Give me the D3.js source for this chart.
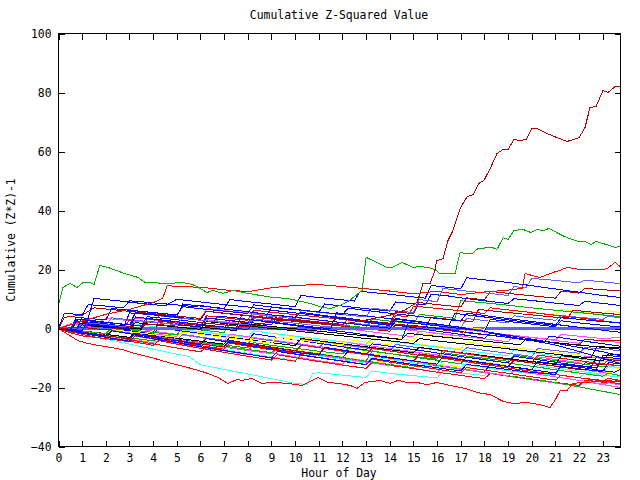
<!DOCTYPE html>
<html><head><meta charset="utf-8">
<script src="https://cdn.jsdelivr.net/npm/d3@7"></script>
<style>
html,body{margin:0;padding:0;background:#fff;}
text{font-family:"DejaVu Sans Mono",monospace;font-size:11.4px;fill:#000;}
</style></head>
<body><svg id="c" width="640" height="480"></svg>
<script>
// ---------- DATA ----------
const hourTicks = [0,1,2,3,4,5,6,7,8,9,10,11,12,13,14,15,16,17,18,19,20,21,22,23];
const valueTicks = [-40,-20,0,20,40,60,80,100];

// standout series: sample hours and values
const bigRedHours = [0,1,2,3,4,5,6,7,8,9,10,11,12,13,14,14.6,15.15,15.28,15.4,15.7,15.91,15.98,16.25,16.46,16.67,16.97,17.27,17.52,17.77,17.98,18.24,18.53,18.79,19.0,19.25,19.5,19.76,20.01,20.22,20.65,21.07,21.49,22.0,22.25,22.46,22.72,23.01,23.22,23.52,23.73];
const bigRedValues = [0,0.4,-0.5,0.7,1.5,0.8,2.0,1.2,0.5,2.4,3.1,2.2,1.4,2.9,4.5,6.1,8.8,11.9,15.2,15.2,19.7,23.0,23.7,29.8,33.2,40.7,44.7,45.4,49.2,50.2,54.2,59.3,60.7,60.7,64.1,63.7,64.1,67.8,67.8,66.1,64.7,63.4,64.7,68.1,74.9,75.3,80.7,80.0,82.0,82.0];

const topGreenHours = [0,0.19,0.4,0.49,0.78,1.04,1.33,1.5,1.75,2.09,2.81,3.36,3.66,3.95,4.37,4.8,5.14,5.47,5.77,6.28,6.53,6.95,7.38,8.01,8.52,9.07,9.66,10.08,10.63,11.18,11.48,11.9,12.3,12.83,13.0,13.46,13.88,14.1,14.52,14.98,15.28,15.62,15.91,16.12,16.76,16.97,17.18,17.48,17.73,18.32,18.53,18.79,19.0,19.25,19.63,19.97,20.22,20.48,20.73,21.2,21.49,21.96,22.25,22.5,22.72,23.01,23.52,23.73];
const topGreenValues = [7.8,13.9,14.9,15.3,13.9,15.6,15.6,14.9,21.4,20.7,18.6,17.3,15.6,15.6,15.3,15.3,15.6,15.3,14.6,12.2,12.9,11.9,12.9,11.9,11.2,10.5,10.2,9.5,8.5,7.1,6.8,7.8,9.5,12.9,24.1,22.4,20.7,20.7,22.4,20.7,21.0,20.7,20.0,18.6,18.6,25.8,25.4,25.4,27.1,27.5,26.8,30.8,30.2,33.2,33.6,32.5,33.6,33.2,33.9,31.9,30.8,29.5,29.5,28.5,29.5,28.8,27.5,27.8];

const lowRedHours = [0,0.82,1.25,2.68,3.23,4.08,4.8,5.64,6.19,6.74,7.16,7.54,7.76,8.18,8.6,9.02,9.7,10.29,10.55,10.97,11.39,11.81,12.32,12.62,12.95,13.59,14.01,14.35,14.73,15.15,15.57,16.0,16.55,17.18,17.69,18.24,18.79,19.21,19.8,20.35,20.77,20.98,21.2,21.49,21.75,22.17,22.76,23.31,23.73];
const lowRedValues = [0,-4.1,-5.1,-7.1,-8.5,-10.2,-11.9,-13.6,-14.9,-16.6,-18.6,-17.3,-17.6,-16.9,-18.6,-18.3,-18.6,-19.3,-18.3,-16.6,-18.3,-18.6,-19.3,-20.3,-18.3,-17.6,-18.6,-17.6,-18.3,-18.3,-19.0,-18.3,-19.3,-20.3,-21.7,-22.4,-24.7,-25.4,-25.1,-25.8,-26.8,-24.4,-21.0,-21.0,-18.6,-18.3,-18.0,-18.0,-17.6];

const upRedHours = [0,1,2,3,4,4.4,4.6,5,6,7,8,9,10,11,12,13,14,15,16,17,18,19,19.59,19.72,20.35,20.9,21.2,21.49,22.04,22.97,23.18,23.52,23.73];
const upRedValues = [0,2.5,4.8,6.5,8.8,10.2,14.6,14.2,14.0,13.1,12.5,13.8,14.6,14.9,14.2,13.5,12.7,11.8,12.6,11.5,12.4,13.0,13.6,18.6,17.3,19.0,19.7,20.7,20.0,20.0,20.3,22.4,21.0];

const zeroHours = [0,23.75];
const zeroValues = [0,0];

// bundle series as [hour, value] pairs
const blue1 = [[0,0],[0.25,5.2],[1,4.6],[1.25,8.1],[2,7.6],[2.75,7.0],[3,9.4],[4,8.7],[5,8.0],[5.75,7.4],[6,7.8],[7,6.6],[8,5.7],[9,4.6],[10,3.8],[10.25,5.5],[11,4.6],[12,3.7],[13,2.6],[14,1.4],[15,0.3],[16,-0.9],[17,-2.0],[18,-3.3],[18.25,-1.6],[19,-2.7],[20,-4.1],[21,-5.6],[22,-7.8],[23,-10.1],[23.75,-11.9]];
const blue2 = [[0,0],[0.5,-0.6],[0.75,3.9],[1.25,3.4],[1.5,10.2],[2.5,9.4],[3.5,8.5],[4.5,7.7],[5,9.9],[6,9.0],[7,8.1],[8,7.3],[9,6.2],[10,5.3],[11,4.4],[12,3.3],[13,2.1],[14,1.0],[14.25,3.4],[15,2.6],[16,1.5],[17,0.4],[18,-1.0],[19,-2.3],[20,-3.6],[21,-5.0],[22,-6.4],[23,-7.9],[23.75,-9.2]];
const blue3 = [[0,0],[1,-0.7],[1.25,2.6],[2,2.0],[3,1.2],[3.25,5.4],[4,4.7],[5,3.9],[5.25,8.3],[6,7.6],[7,6.8],[7.25,9.8],[8,9.1],[9,8.3],[10,7.4],[10.25,11.2],[11,10.5],[12,9.7],[12.5,9.3],[12.75,12.6],[14,11.6],[15,10.7],[15.5,10.3],[15.75,14.6],[16.5,13.9],[17,13.5],[17.25,17.2],[18,16.5],[19,15.6],[20,14.5],[21,13.4],[22,12.3],[23,11.2],[23.75,10.5]];
const blue4 = [[0,0],[1,-1.3],[2,-2.6],[2.25,-0.8],[3,-1.8],[4,-3.0],[5,-4.2],[6,-5.5],[6.25,-3.4],[7,-4.4],[8,-5.7],[9,-6.9],[10,-8.1],[11,-9.0],[11.25,-6.4],[12,-7.3],[13,-8.6],[14,-9.8],[15,-11.0],[16,-12.1],[16.25,-9.4],[17,-10.5],[18,-11.6],[19,-12.8],[20,-13.9],[20.25,-11.2],[21,-12.0],[22,-13.1],[23,-14.3],[23.5,-14.8],[23.75,-13.8]];
const blue5 = [[0,0],[1,-0.8],[1.25,1.6],[2,1.0],[2.75,0.4],[3,5.3],[4,4.6],[5,3.8],[6,3.0],[6.25,5.9],[7,5.1],[8,4.3],[8.75,3.7],[9,7.2],[10,6.4],[11,5.5],[11.25,8.3],[12,7.6],[13,6.7],[14,5.9],[14.25,9.0],[15,8.4],[15.5,8.0],[15.75,11.6],[16.5,11.0],[17,10.4],[18,9.4],[19,8.5],[19.25,10.1],[20,9.5],[21,8.6],[22,7.8],[22.25,9.2],[23,8.5],[23.75,7.8]];
const blue6 = [[0,0],[1,-1.2],[2,-2.4],[3,-3.5],[3.25,-1.5],[4,-2.5],[5,-3.7],[6,-4.9],[7,-6.1],[7.25,-4.0],[8,-5.0],[9,-6.3],[10,-7.5],[11,-8.7],[12,-9.9],[12.25,-7.6],[13,-8.6],[14,-9.9],[15,-11.1],[16,-12.4],[17,-13.6],[18,-14.8],[18.25,-12.0],[19,-12.9],[20,-14.0],[21,-15.1],[21.25,-12.8],[22,-13.7],[23,-14.6],[23.25,-11.5],[23.75,-12.0]];
const blue7 = [[0,0],[0.5,-0.5],[0.75,2.6],[1.5,2.0],[2.5,1.1],[3,0.6],[3.25,3.9],[4,3.2],[5,2.3],[6,1.4],[7,0.5],[8,-0.4],[8.25,2.9],[9,2.2],[10,1.2],[11,0.3],[11.5,-0.1],[11.75,5.3],[12.5,4.7],[13.5,3.8],[14.5,2.9],[15.5,1.9],[16.5,1.0],[16.75,5.1],[17.5,4.4],[18.5,3.4],[19.5,2.4],[20.5,1.5],[21,1.0],[21.25,3.8],[22,3.1],[23,2.3],[23.75,2.0]];
const blue8 = [[0,0],[0.75,-0.8],[1,1.2],[2,0.3],[3,-0.8],[4,-1.9],[4.25,0.3],[5,-0.6],[6,-1.7],[7,-2.8],[8,-4.0],[8.25,-1.8],[9,-2.7],[10,-3.8],[11,-5.0],[12,-6.2],[13,-7.3],[13.25,-5.2],[14,-6.0],[15,-7.1],[16,-8.3],[17,-9.5],[18,-10.6],[19,-11.7],[19.25,-9.4],[20,-10.3],[21,-11.4],[22,-12.6],[22.5,-13.0],[22.75,-9.6],[23.75,-10.2]];
const blue9 = [[0,0],[0.5,-0.4],[0.75,3.2],[1.5,2.6],[2.5,1.7],[3.5,0.8],[3.75,4.0],[4.5,3.4],[5.5,2.5],[6.5,1.6],[6.75,4.2],[7.5,3.6],[8.5,2.6],[9.5,1.5],[10.5,0.4],[11.5,-0.6],[12.5,-1.6],[13.5,-2.7],[14.5,-3.8],[14.75,1.2],[15.5,0.6],[16.5,-0.4],[17.5,-1.5],[18.5,-2.5],[19.5,-3.6],[20.5,-4.7],[20.75,-2.6],[21.5,-3.4],[22.5,-4.6],[23.75,-6.0]];
const blue10 = [[0,0],[1,-1.6],[2,-3.0],[3,-4.3],[3.25,-2.4],[4,-3.5],[5,-4.8],[6,-6.2],[7,-7.5],[8,-8.7],[9,-10.0],[9.25,-7.8],[10,-8.7],[11,-9.9],[12,-11.1],[13,-12.3],[13.25,-10.1],[14,-11.0],[15,-12.2],[16,-13.3],[17,-14.4],[17.25,-12.2],[18,-12.9],[19,-13.9],[20,-14.9],[21,-15.6],[21.25,-12.0],[22,-12.8],[22.75,-13.4],[23,-9.1],[23.75,-9.5]];
const blue11 = [[0,0],[0.75,-0.6],[1,3.6],[2,2.9],[2.25,6.8],[3,6.2],[4,5.4],[5,4.6],[5.25,7.4],[6,6.7],[7,5.9],[8,5.1],[8.25,8.0],[9,7.3],[10,6.5],[11,5.6],[12,4.8],[12.25,6.9],[13,6.1],[14,5.2],[15,4.3],[16,3.4],[17,2.5],[17.25,5.2],[18,4.4],[19,3.4],[20,2.4],[21,1.4],[22,0.4],[23,-0.6],[23.75,-1.3]];
const blue12 = [[0,0],[1,-0.9],[1.25,1.4],[2,0.7],[3,-0.1],[3.25,2.8],[4,2.1],[5,1.3],[6,0.5],[6.25,3.6],[7,2.9],[8,2.1],[9,1.2],[9.25,4.5],[10,3.8],[11,2.9],[12,2.0],[13,1.0],[14,0.1],[14.25,2.5],[15,1.8],[16,0.9],[17,0.0],[18,-0.9],[18.25,3.1],[19,2.4],[20,1.5],[21,0.6],[21.25,2.6],[22,1.9],[23,1.1],[23.75,0.5]];
const lightBlue2 = [[0,0],[1,-0.8],[1.25,1.9],[2,1.3],[3,0.5],[3.25,2.8],[4,2.1],[5,1.3],[5.25,3.5],[6,2.8],[7,2.0],[8,1.2],[8.25,4.8],[9,4.1],[10,3.3],[10.25,6.2],[11,5.5],[12,4.7],[13,3.9],[13.25,6.9],[14,6.2],[15,5.4],[15.25,9.8],[16,9.1],[16.25,13.6],[17,12.9],[18,12.1],[19,11.2],[19.25,14.2],[19.75,13.8],[20,17.0],[21,16.3],[22,15.5],[22.25,16.4],[23,15.8],[23.75,15.2]];
const lightBlue3 = [[0,0],[1,-1.1],[2,-2.2],[2.25,-0.6],[3,-1.5],[4,-2.7],[5,-3.8],[5.25,-2.0],[6,-2.9],[7,-4.0],[8,-5.1],[8.25,-3.3],[9,-4.2],[10,-5.3],[11,-6.4],[11.25,-4.6],[12,-5.4],[13,-6.5],[14,-7.6],[14.25,-5.4],[15,-6.3],[16,-7.3],[17,-8.4],[17.25,-6.5],[18,-7.4],[19,-8.4],[20,-9.5],[20.25,-6.8],[21,-7.5],[22,-8.4],[22.25,-6.4],[23,-7.0],[23.75,-7.5]];
const lightBlue4 = [[0,0],[0.75,-0.5],[1,1.8],[2,1.1],[2.25,3.6],[3,3.0],[4,2.2],[4.25,4.3],[5,3.6],[6,2.8],[7,2.0],[8,1.2],[8.25,3.3],[9,2.6],[10,1.8],[11,0.9],[12,0.1],[12.25,2.0],[13,1.3],[14,0.5],[14.25,2.6],[15,1.9],[16,1.1],[17,0.3],[17.25,3.4],[18,2.7],[19,1.9],[19.25,4.3],[20,3.6],[21,2.8],[21.25,4.4],[22,3.8],[23,3.1],[23.25,4.2],[23.75,3.5]];
const red3 = [[0,0],[1,-1.4],[2,-2.9],[3,-4.3],[4,-5.7],[4.25,-4.1],[5,-5.3],[6,-6.7],[7,-8.1],[8,-9.4],[9,-10.7],[9.25,-8.9],[10,-9.9],[11,-11.2],[12,-12.4],[13,-13.5],[13.25,-11.6],[14,-12.5],[15,-13.6],[16,-14.8],[17,-15.9],[18,-17.0],[18.25,-15.2],[19,-16.1],[20,-17.2],[21,-18.3],[22,-19.3],[22.25,-17.5],[23,-18.2],[23.75,-18.6]];
const red4 = [[0,0],[1,-1.2],[2,-2.4],[2.25,-0.8],[3,-1.7],[4,-2.9],[5,-4.1],[6,-5.3],[6.25,-3.2],[7,-4.2],[8,-5.4],[9,-6.6],[10,-7.8],[10.25,-5.5],[11,-6.5],[12,-7.7],[13,-8.9],[14,-10.1],[15,-11.2],[15.25,-8.8],[16,-9.8],[17,-11.0],[18,-12.2],[19,-13.4],[20,-14.5],[21,-15.6],[22,-16.7],[23,-17.8],[23.25,-16.9],[23.75,-17.6]];
const red5 = [[0,0],[1,-0.9],[1.25,1.2],[2,0.5],[2.75,0.0],[3,2.9],[4,2.2],[5,1.4],[6,0.6],[6.25,4.3],[7,3.6],[8,2.8],[8.25,6.2],[9,5.5],[10,4.7],[11,3.9],[12,3.1],[13,2.2],[14,1.4],[14.25,4.4],[14.75,4.0],[15,7.6],[16,6.8],[17,6.0],[18,5.1],[18.25,7.0],[19,6.3],[20,5.4],[21,4.5],[22,3.6],[23,2.6],[23.75,1.8]];
const red6 = [[0,0],[1,-2.0],[2,-3.6],[2.25,-2.6],[3,-3.8],[4,-5.2],[5,-6.6],[6,-7.9],[6.25,-6.4],[7,-7.4],[8,-8.7],[9,-9.9],[10,-11.1],[10.25,-8.8],[11,-9.8],[12,-11.0],[13,-12.2],[13.25,-10.4],[14,-11.4],[15,-12.6],[16,-13.8],[17,-15.0],[17.25,-13.2],[18,-14.1],[19,-15.2],[20,-16.4],[21,-17.5],[21.25,-15.8],[22,-16.7],[23,-17.6],[23.75,-18.0]];
const red7 = [[0,0],[0.5,-1.5],[1,-2.5],[2,-3.4],[3,-4.5],[3.25,-2.5],[4,-3.4],[5,-4.6],[6,-5.8],[7,-7.0],[7.25,-5.0],[8,-6.0],[9,-7.2],[10,-8.4],[10.25,-5.6],[11,-6.5],[12,-7.7],[13,-8.9],[13.25,-6.7],[14,-7.6],[15,-8.8],[16,-10.0],[16.25,-7.4],[17,-8.3],[18,-9.5],[19,-10.6],[20,-11.7],[20.25,-9.0],[21,-9.8],[22,-10.9],[23,-12.0],[23.75,-12.6]];
const darkRed2 = [[0,0],[0.25,3.8],[1,4.5],[1.5,7.0],[2,6.6],[3,5.8],[4,5.0],[5,4.2],[6,3.4],[6.25,5.9],[7,5.2],[8,4.4],[9,3.6],[10,2.8],[11,2.0],[12,1.2],[12.25,3.3],[13,2.6],[14,1.8],[14.25,5.7],[15,5.0],[15.25,8.8],[16,8.1],[17,7.3],[17.25,10.4],[18,9.7],[18.25,12.6],[19,11.9],[20,11.1],[21,10.3],[21.25,12.7],[22,12.0],[22.25,13.6],[23,13.1],[23.75,12.9]];
const darkRed3 = [[0,0],[1,-0.8],[2,-1.7],[2.25,0.3],[3,-0.4],[4,-1.3],[4.25,2.5],[5,1.8],[6,1.0],[7,0.2],[7.25,2.6],[8,1.9],[8.25,3.9],[9,3.2],[10,2.4],[11,1.6],[12,0.8],[13,-0.1],[14,-0.9],[14.25,1.3],[15,0.6],[16,-0.3],[17,-1.2],[18,-2.1],[19,-3.0],[20,-3.9],[21,-4.8],[22,-5.7],[22.25,-3.6],[23,-4.2],[23.75,-4.2]];
const darkRed4 = [[0,0],[1,-1.2],[2,-2.4],[3,-3.5],[3.25,-1.9],[4,-2.8],[5,-4.0],[6,-5.2],[7,-6.3],[7.25,-4.3],[8,-5.2],[9,-6.4],[10,-7.6],[11,-8.7],[11.25,-6.5],[12,-7.4],[13,-8.6],[14,-9.8],[15,-11.0],[15.25,-8.6],[16,-9.5],[17,-10.6],[18,-11.8],[19,-12.9],[19.25,-10.8],[20,-11.7],[21,-12.8],[22,-13.9],[22.25,-11.6],[23,-12.3],[23.25,-10.5],[23.75,-11.0]];
const darkRed5 = [[0,0],[0.5,-0.7],[0.75,2.4],[1.5,1.8],[2.5,0.9],[3.5,0.0],[3.75,3.3],[4.5,2.6],[5.5,1.8],[6.5,0.9],[7.5,0.1],[7.75,4.6],[8.5,3.9],[9.5,3.1],[10.5,2.2],[11.5,1.3],[11.75,3.6],[12.5,2.9],[13.5,2.1],[14.5,1.3],[15.5,0.4],[15.75,3.8],[16.5,3.1],[17.5,2.3],[17.75,6.5],[18.5,5.8],[19.5,5.0],[20.5,4.2],[21.5,3.4],[21.75,6.2],[22.5,5.6],[23.75,4.7]];
const green2 = [[0,0],[1,-1.0],[2,-2.0],[3,-3.1],[4,-4.2],[4.25,-2.8],[5,-3.8],[6,-4.9],[7,-6.0],[8,-7.1],[9,-8.2],[9.25,-6.8],[10,-7.7],[11,-8.9],[12,-10.0],[13,-11.1],[14,-12.2],[15,-13.3],[15.25,-11.5],[16,-12.6],[17,-13.7],[18,-14.9],[19,-16.0],[20,-17.1],[21,-18.3],[22,-19.8],[23,-21.3],[23.75,-22.4]];
const green3 = [[0,0],[1,-0.9],[2,-1.8],[2.25,0.4],[3,-0.4],[4,-1.3],[5,-2.2],[5.25,0.3],[6,-0.5],[7,-1.4],[7.25,1.8],[8,1.0],[9,0.2],[10,-0.7],[10.25,2.6],[11,1.9],[12,1.1],[13,0.3],[13.25,3.2],[14,2.5],[15,1.6],[15.25,4.8],[16,4.1],[16.75,3.5],[17,9.4],[18,8.7],[19,7.9],[20,7.0],[21,6.2],[22,5.4],[23,4.6],[23.75,4.0]];
const green4 = [[0,0],[1,-1.2],[2,-2.4],[3,-3.6],[4,-4.8],[4.25,-3.0],[5,-3.9],[6,-5.1],[7,-6.3],[8,-7.5],[8.25,-5.4],[9,-6.3],[10,-7.5],[11,-8.6],[12,-9.8],[13,-11.0],[13.25,-7.6],[14,-8.5],[15,-9.7],[16,-10.8],[17,-12.0],[17.25,-9.6],[18,-10.5],[19,-11.7],[20,-12.8],[21,-14.0],[22,-15.1],[23,-16.2],[23.25,-15.2],[23.75,-16.0]];
const green5 = [[0,0],[0.5,-1.2],[1,-1.6],[2,-2.5],[3,-3.4],[3.25,-1.8],[4,-2.7],[5,-3.7],[6,-4.7],[7,-5.6],[8,-6.6],[8.25,-4.8],[9,-5.7],[10,-6.7],[11,-7.7],[12,-8.6],[12.25,-6.6],[13,-7.5],[14,-8.5],[15,-9.5],[16,-10.4],[16.25,-8.2],[17,-9.1],[18,-10.1],[19,-11.1],[19.25,-9.0],[20,-9.9],[21,-10.9],[22,-11.9],[23,-12.9],[23.75,-12.5]];
const magenta1 = [[0,0],[0.5,-0.4],[0.75,1.6],[1.5,1.1],[2,3.4],[3,2.7],[4,1.9],[4.25,4.4],[5,3.8],[6,3.0],[6.25,6.8],[7,6.1],[8,5.3],[9,4.5],[10,3.7],[11,2.8],[12,2.0],[13,1.1],[14,0.2],[15,-0.7],[16,-1.6],[17,-2.5],[17.25,-0.4],[18,-1.2],[19,-2.1],[20,-3.0],[21,-3.9],[21.25,-2.0],[22,-2.6],[23,-3.4],[23.75,-3.0]];
const magenta2 = [[0,0],[1,-1.4],[2,-2.8],[3,-4.1],[3.25,-2.6],[4,-3.6],[5,-5.0],[6,-6.3],[7,-7.6],[8,-8.9],[8.25,-7.3],[9,-8.3],[10,-9.6],[11,-10.9],[12,-12.1],[12.25,-10.1],[13,-11.0],[14,-12.3],[15,-13.5],[16,-14.8],[16.25,-12.9],[17,-13.8],[18,-15.0],[19,-16.2],[20,-17.4],[21,-18.5],[22,-19.6],[22.25,-18.0],[23,-19.0],[23.75,-20.0]];
const magenta3 = [[0,0],[0.5,1.6],[1,1.0],[2,0.1],[3,-0.8],[4,-1.8],[5,-2.8],[5.25,-0.9],[6,-1.8],[7,-2.8],[8,-3.8],[9,-4.8],[10,-5.8],[10.25,-3.7],[11,-4.6],[12,-5.6],[13,-6.6],[14,-7.6],[15,-8.6],[15.25,-6.4],[16,-7.3],[17,-8.4],[18,-9.4],[19,-10.5],[20,-11.6],[21,-12.7],[22,-13.8],[23,-14.9],[23.75,-15.9]];
const magenta4 = [[0,0],[1,-0.8],[2,-1.7],[2.25,0.4],[3,-0.3],[3.25,3.6],[4,2.9],[5,2.1],[6,1.2],[6.25,3.0],[7,2.3],[8,1.4],[9,0.5],[10,-0.4],[11,-1.3],[11.25,0.8],[12,0.0],[13,-0.9],[14,-1.9],[15,-2.8],[15.25,-0.9],[16,-1.7],[17,-2.6],[18,-3.5],[19,-4.5],[19.25,-2.3],[20,-3.1],[21,-4.1],[22,-5.0],[22.25,-3.6],[23,-4.3],[23.75,-4.7]];
const magenta5 = [[0,0],[1,-1.2],[2,-2.4],[3,-3.6],[4,-4.8],[4.25,-2.8],[5,-3.8],[6,-5.0],[7,-6.2],[8,-7.4],[9,-8.6],[9.25,-6.9],[10,-7.8],[11,-9.0],[12,-10.2],[13,-11.4],[14,-12.6],[14.25,-10.3],[15,-11.2],[16,-12.4],[17,-13.6],[18,-14.8],[19,-16.0],[19.25,-14.3],[20,-15.2],[21,-16.4],[22,-17.6],[23,-18.8],[23.25,-18.4],[23.75,-19.2]];
const magenta6 = [[0,0],[1,-1.0],[2,-2.1],[2.25,0.9],[3,0.2],[4,-0.9],[5,-2.0],[6,-3.1],[7,-4.2],[7.25,-1.9],[8,-2.8],[9,-3.9],[10,-5.0],[11,-6.1],[12,-7.2],[12.25,-4.8],[13,-5.7],[14,-6.8],[15,-7.9],[16,-9.0],[17,-10.1],[17.25,-8.3],[18,-9.2],[19,-10.3],[20,-11.4],[20.25,-9.6],[21,-10.5],[22,-11.6],[22.25,-9.4],[23,-10.2],[23.75,-10.6]];
const cyan1 = [[0,0],[1,-1.8],[2,-3.6],[3,-5.3],[4,-7.0],[5,-8.7],[5.5,-9.4],[6,-12.3],[7,-13.9],[8,-15.4],[9,-17.0],[10,-18.6],[10.5,-19.0],[10.75,-15.2],[11,-15.0],[12,-15.8],[13,-16.6],[13.25,-14.4],[14,-15.2],[15,-16.0],[16,-16.7],[16.25,-14.4],[17,-15.1],[18,-15.9],[18.25,-13.6],[19,-14.3],[20,-15.1],[21,-15.9],[21.25,-13.2],[22,-13.8],[23,-14.6],[23.25,-12.9],[23.75,-13.2]];
const cyan2 = [[0,0],[1,-1.1],[2,-2.3],[3,-3.5],[3.25,-2.0],[4,-2.9],[5,-4.1],[6,-5.3],[7,-6.5],[7.25,-4.8],[8,-5.7],[9,-6.9],[10,-8.1],[11,-9.3],[12,-10.5],[13,-11.7],[13.25,-9.6],[14,-10.5],[15,-11.6],[16,-12.8],[17,-14.0],[17.25,-11.4],[18,-12.2],[19,-13.4],[20,-14.5],[21,-15.6],[22,-16.7],[22.25,-15.2],[23,-15.9],[23.75,-16.4]];
const cyan3 = [[0,0],[0.5,1.2],[1,0.8],[2,0.0],[3,-0.9],[3.25,1.4],[4,0.7],[5,-0.2],[6,-1.1],[7,-2.0],[8,-2.9],[8.25,-0.8],[9,-1.6],[10,-2.6],[11,-3.5],[12,-4.5],[13,-5.4],[13.25,-3.5],[14,-4.3],[15,-5.3],[16,-6.3],[17,-7.3],[18,-8.3],[19,-9.3],[19.25,-7.3],[20,-8.2],[21,-9.2],[22,-10.2],[23,-11.2],[23.75,-11.4]];
const cyan4 = [[0,0],[1,-1.4],[2,-2.8],[3,-4.1],[4,-5.4],[4.25,-3.5],[5,-4.5],[6,-5.8],[7,-7.1],[8,-8.4],[9,-9.6],[10,-10.9],[10.25,-8.8],[11,-9.8],[12,-11.1],[13,-12.3],[13.25,-10.4],[14,-11.3],[15,-12.5],[16,-13.7],[16.25,-11.1],[17,-12.0],[18,-13.2],[19,-14.3],[20,-15.4],[20.25,-12.6],[21,-13.4],[22,-14.5],[23,-15.5],[23.25,-12.3],[23.75,-12.6]];
const yellow1 = [[0,0],[1,-1.0],[2,-2.1],[3,-3.2],[3.25,-1.8],[4,-2.7],[5,-3.8],[6,-4.9],[7,-6.0],[7.25,-4.1],[8,-5.0],[9,-6.1],[10,-7.2],[11,-8.3],[11.25,-6.4],[12,-7.2],[13,-8.3],[14,-9.4],[14.25,-7.3],[15,-8.1],[16,-9.2],[17,-10.3],[18,-11.4],[19,-12.5],[19.25,-10.6],[20,-11.4],[21,-12.5],[22,-13.6],[23,-14.7],[23.25,-13.2],[23.75,-13.5]];
const yellow2 = [[0,0],[1,-0.9],[2,-1.9],[2.25,-0.3],[3,-1.1],[4,-2.1],[5,-3.0],[5.25,-1.2],[6,-2.0],[7,-3.0],[8,-4.0],[9,-5.0],[9.25,-2.9],[10,-3.7],[11,-4.7],[12,-5.6],[12.25,-3.8],[13,-4.6],[14,-5.5],[14.25,-3.3],[15,-4.1],[15.25,-1.6],[16,-2.4],[17,-3.3],[17.25,0.4],[18,-0.3],[18.25,3.6],[19,3.0],[19.25,6.2],[20,5.5],[21,4.6],[21.25,6.4],[22,5.8],[23,5.0],[23.25,6.0],[23.75,5.4]];
const yellow3 = [[0,0],[1,-1.1],[2,-2.2],[3,-3.3],[4,-4.4],[4.25,-2.9],[5,-3.8],[6,-4.9],[7,-6.0],[8,-7.1],[9,-8.2],[9.25,-6.6],[10,-7.5],[11,-8.6],[12,-9.7],[13,-10.8],[14,-11.9],[14.25,-10.0],[15,-10.9],[16,-12.0],[17,-13.1],[18,-14.2],[18.25,-12.4],[19,-13.3],[20,-14.4],[21,-15.5],[21.25,-13.7],[22,-14.5],[23,-15.3],[23.75,-14.2]];
const yellow4 = [[0,0],[1,-0.9],[1.25,0.9],[2,0.2],[3,-0.7],[4,-1.6],[5,-2.5],[5.25,-0.6],[6,-1.4],[7,-2.3],[8,-3.2],[9,-4.1],[9.25,-2.0],[10,-2.8],[11,-3.7],[12,-4.6],[13,-5.5],[13.25,-3.4],[14,-4.2],[15,-5.1],[16,-6.0],[17,-6.9],[17.25,-4.6],[18,-5.4],[19,-6.3],[20,-7.2],[21,-8.1],[22,-9.0],[23,-10.0],[23.75,-10.6]];
const black1 = [[0,0],[1,-0.8],[1.25,1.1],[2,0.4],[3,-0.4],[3.25,2.0],[4,1.3],[5,0.5],[6,-0.3],[6.25,2.4],[7,1.7],[8,0.9],[9,0.0],[10,-0.8],[11,-1.7],[12,-2.5],[13,-3.4],[14,-4.2],[15,-5.1],[15.25,-3.4],[16,-4.2],[17,-5.1],[18,-6.0],[19,-6.9],[20,-7.8],[21,-8.7],[22,-9.6],[22.5,-10.0],[22.75,-6.2],[23.75,-6.4]];
const black2 = [[0,0],[1,-1.0],[2,-2.0],[3,-3.0],[3.25,-1.4],[4,-2.3],[5,-3.3],[6,-4.3],[7,-5.3],[7.25,-3.0],[8,-3.8],[9,-4.8],[10,-5.8],[10.25,-3.4],[11,-4.2],[12,-5.2],[13,-6.2],[14,-7.2],[15,-8.2],[15.25,-6.4],[16,-7.2],[17,-8.2],[18,-9.2],[19,-10.2],[20,-11.2],[21,-12.2],[21.25,-9.2],[22,-10.0],[23,-11.0],[23.25,-8.6],[23.75,-8.9]];
const black3 = [[0,0],[0.5,-0.6],[0.75,2.0],[1.5,1.4],[2.5,0.6],[3.5,-0.2],[3.75,2.3],[4.5,1.7],[5.5,0.9],[6.5,0.1],[7.5,-0.7],[7.75,1.8],[8.5,1.1],[9.5,0.3],[10.5,-0.5],[11.5,-1.3],[12.5,-2.1],[13.5,-2.9],[14.5,-3.7],[14.75,-1.6],[15.5,-2.3],[16.5,-3.1],[17.5,-3.9],[18.5,-4.7],[19.5,-5.5],[19.75,-3.7],[20.5,-4.4],[21.5,-5.2],[22.5,-6.0],[23.75,-7.0]];

// ---------- STYLE (kept apart from data) ----------
const C = {red:"#ff0000", darkRed:"#b00000", green:"#00b000", blue:"#0000ff",
           lightBlue:"#6060ff", magenta:"#ff50ff", cyan:"#40ffff", yellow:"#ffff00", black:"#000000"};
const pairs = (hs, vs) => hs.map((h,i)=>[h, vs[i]]);

const drawOrder = [
  {pts:yellow1,color:C.yellow},{pts:yellow3,color:C.yellow},{pts:yellow4,color:C.yellow},
  {pts:cyan2,color:C.cyan},{pts:cyan3,color:C.cyan},{pts:cyan4,color:C.cyan},
  {pts:magenta3,color:C.magenta},{pts:magenta6,color:C.magenta},{pts:green5,color:C.green},
  {pts:magenta1,color:C.magenta},{pts:red4,color:C.red},{pts:lightBlue3,color:C.lightBlue},
  {pts:magenta4,color:C.magenta},{pts:cyan1,color:C.cyan},{pts:green4,color:C.green},
  {pts:darkRed3,color:C.darkRed},{pts:blue8,color:C.blue},{pts:magenta2,color:C.magenta},
  {pts:red3,color:C.red},{pts:blue6,color:C.blue},{pts:green2,color:C.green},
  {pts:black2,color:C.black},{pts:red7,color:C.red},
  {pts:pairs(zeroHours,zeroValues),color:C.lightBlue,w:3},
  {pts:lightBlue4,color:C.lightBlue},{pts:blue9,color:C.blue},{pts:magenta5,color:C.magenta},
  {pts:red6,color:C.red},{pts:darkRed4,color:C.darkRed},{pts:blue4,color:C.blue},
  {pts:blue10,color:C.blue},{pts:yellow2,color:C.yellow},{pts:green3,color:C.green},
  {pts:red5,color:C.red},{pts:darkRed5,color:C.darkRed},{pts:black3,color:C.black},
  {pts:blue7,color:C.blue},{pts:black1,color:C.black},{pts:blue12,color:C.blue},
  {pts:blue5,color:C.blue},{pts:darkRed2,color:C.darkRed},{pts:lightBlue2,color:C.lightBlue},
  {pts:blue11,color:C.blue},{pts:blue1,color:C.blue},{pts:blue2,color:C.blue},{pts:blue3,color:C.blue},
  {pts:pairs(lowRedHours,lowRedValues),color:C.red},
  {pts:pairs(upRedHours,upRedValues),color:C.red},
  {pts:pairs(topGreenHours,topGreenValues),color:C.green},
  {pts:pairs(bigRedHours,bigRedValues),color:C.darkRed}
];

// ---------- DRAW ----------
const svg = d3.select("#c");
const x = d3.scaleLinear().domain([0,23.75]).range([58.5,620.5]);
const y = d3.scaleLinear().domain([-40,100]).range([446.5,33.5]);
const line = d3.line().x(d=>x(d[0])).y(d=>y(d[1]));

svg.append("g").selectAll("path").data(drawOrder).join("path")
  .attr("d", d=>line(d.pts)).attr("fill","none")
  .attr("stroke", d=>d.color).attr("stroke-width", d=>d.w||1)
  .attr("shape-rendering","crispEdges");

const axB = svg.append("g").attr("transform","translate(0,446.5)")
  .call(d3.axisBottom(x).tickValues(hourTicks).tickSizeInner(-6).tickSizeOuter(0).tickPadding(7).tickFormat(d3.format("d")));
const axT = svg.append("g").attr("transform","translate(0,33.5)")
  .call(d3.axisTop(x).tickValues(hourTicks).tickSizeInner(-6).tickSizeOuter(0).tickFormat(""));
const axL = svg.append("g").attr("transform","translate(58.5,0)")
  .call(d3.axisLeft(y).tickValues(valueTicks).tickSizeInner(-6).tickSizeOuter(0).tickPadding(7).tickFormat(d3.format("d")));
const axR = svg.append("g").attr("transform","translate(620.5,0)")
  .call(d3.axisRight(y).tickValues(valueTicks).tickSizeInner(-6).tickSizeOuter(0).tickFormat(""));
[axB,axT,axL,axR].forEach(a=>{
  a.select(".domain").remove();
  a.selectAll("line").attr("stroke","#000").attr("shape-rendering","crispEdges");
  a.selectAll("text").attr("font-family",null).attr("font-size",null).attr("fill","#000");
});
svg.append("rect").attr("x",58.5).attr("y",33.5).attr("width",562).attr("height",413)
  .attr("fill","none").attr("stroke","#000").attr("shape-rendering","crispEdges");

svg.append("text").attr("x",339).attr("y",19).attr("text-anchor","middle").text("Cumulative Z-Squared Value");
svg.append("text").attr("x",339).attr("y",477).attr("text-anchor","middle").text("Hour of Day");
svg.append("text").attr("transform","translate(15,240) rotate(-90)").attr("text-anchor","middle").text("Cumulative (Z*Z)-1");
</script></body></html>
